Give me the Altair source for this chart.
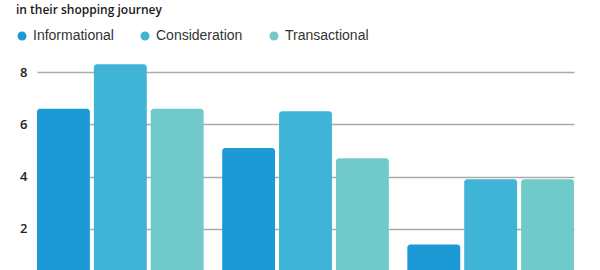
import altair as alt
import pandas as pd

groups = ["Group A", "Group B", "Group C"]
series = ["Informational", "Consideration", "Transactional"]
informational = [6.6, 5.1, 1.4]
consideration = [8.3, 6.5, 3.9]
transactional = [6.6, 4.7, 3.9]
colors = ["#1b9ad6", "#40b4d6", "#70caca"]
y_ticks = [2, 4, 6, 8]
title_text = "in their shopping journey"

rows = []
for i, g in enumerate(groups):
    for s, vals in zip(series, [informational, consideration, transactional]):
        rows.append({"grp": g, "kind": s, "value": vals[i]})
df = pd.DataFrame(rows)

chart = alt.Chart(df).mark_bar(
    cornerRadiusTopLeft=3, cornerRadiusTopRight=3
).encode(
    x=alt.X("grp:N", sort=groups, axis=None,
            scale=alt.Scale(paddingInner=0.1, paddingOuter=0)),
    xOffset=alt.XOffset("kind:N", sort=series,
                        scale=alt.Scale(paddingInner=0.07, paddingOuter=0)),
    y=alt.Y("value:Q", stack=None,
            scale=alt.Scale(domain=[0, 10], nice=False, range=[261, 0]),
            axis=alt.Axis(values=y_ticks, title=None, domain=False, ticks=False,
                          labelPadding=10, labelFont="Open Sans", labelFontSize=13,
                          labelFontWeight=600,
                          labelColor="#222", gridColor="#aaa", gridWidth=1.5)),
    color=alt.Color("kind:N", sort=series,
                    scale=alt.Scale(domain=series, range=colors),
                    legend=alt.Legend(title=None, orient="none", direction="horizontal",
                                      legendX=-22, legendY=9, padding=0,
                                      symbolType="circle", symbolSize=80,
                                      symbolStrokeWidth=0,
                                      labelFont="Liberation Sans", labelFontSize=14,
                                      labelColor="#333", labelOffset=4,
                                      columnPadding=24)),
).properties(
    width=537, height=250,
    autosize=alt.AutoSizeParams(type="none"),
    padding={"left": 37, "top": 20, "right": 26, "bottom": 0},
    title=alt.TitleParams(text=title_text, anchor="start", dx=1, offset=3,
                          font="Open Sans", fontSize=12, fontWeight=600,
                          color="#1a1a1a"),
).configure_view(stroke=None)

chart.save("out.html", embed_options={"renderer": "svg", "actions": False})
